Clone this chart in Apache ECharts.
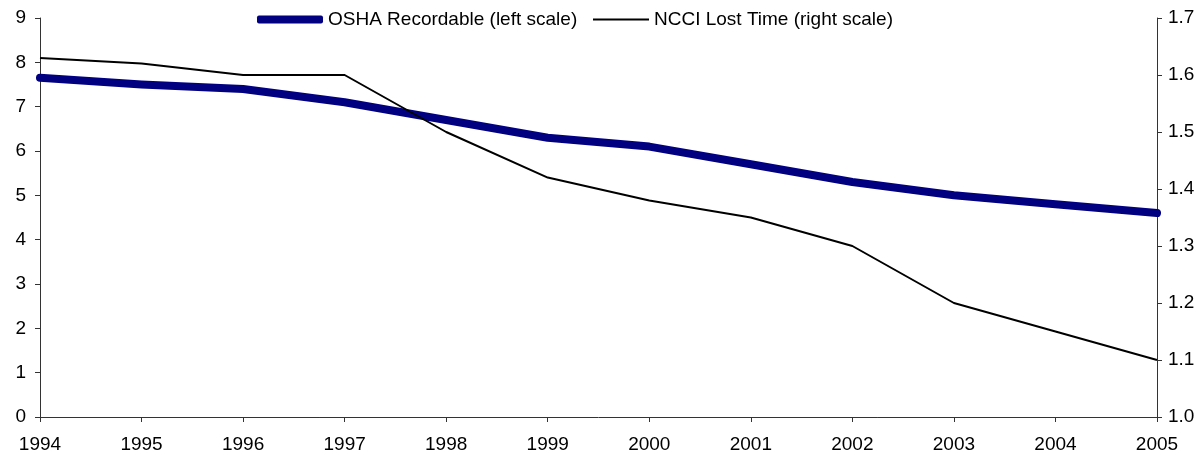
<!DOCTYPE html>
<html>
<head>
<meta charset="utf-8">
<script src="https://cdn.jsdelivr.net/npm/echarts@6/dist/echarts.min.js"></script>
<style>
  html, body { margin: 0; padding: 0; background: #fff; }
  #chart { width: 1196px; height: 455px; }
</style>
</head>
<body>
<div id="chart"></div>
<script>
// Injury rates by year
const years = ['1994', '1995', '1996', '1997', '1998', '1999', '2000', '2001', '2002', '2003', '2004', '2005'];
const oshaRecordable = [7.65, 7.5, 7.4, 7.1, 6.7, 6.3, 6.1, 5.7, 5.3, 5.0, 4.8, 4.6];
const ncciLostTime = [1.63, 1.62, 1.60, 1.60, 1.50, 1.42, 1.38, 1.35, 1.30, 1.20, 1.15, 1.10];
const leftTicks = { min: 0, max: 9, interval: 1 };
const rightTicks = { min: 1.0, max: 1.7, interval: 0.1 };

const FONT = 'Liberation Sans, Arial, sans-serif';
const axisColor = '#333';
const navy = '#000080';

const chart = echarts.init(document.getElementById('chart'), null, { renderer: 'canvas' });
chart.setOption({
  animation: false,
  backgroundColor: '#fff',
  textStyle: { fontFamily: FONT },
  grid: { left: 40, right: 39, top: 18, bottom: 38, containLabel: false, outerBoundsMode: 'none' },
  legend: [
    {
      data: [{ name: 'OSHA Recordable (left scale)', icon: 'roundRect' }],
      left: 252, top: 5,
      itemWidth: 66, itemHeight: 8,
      itemStyle: { color: navy, borderWidth: 0 },
      textStyle: { fontFamily: FONT, fontSize: 19, color: '#000' }
    },
    {
      data: [{ name: 'NCCI Lost Time (right scale)', icon: 'rect' }],
      left: 588, top: 5,
      itemWidth: 56, itemHeight: 2,
      itemStyle: { color: '#000', borderWidth: 0 },
      textStyle: { fontFamily: FONT, fontSize: 19, color: '#000' }
    }
  ],
  xAxis: {
    type: 'category',
    data: years,
    boundaryGap: false,
    axisLine: { lineStyle: { color: axisColor, width: 1 } },
    axisTick: { show: true, length: 5, inside: false, lineStyle: { color: axisColor } },
    axisLabel: { fontFamily: FONT, fontSize: 19, color: '#000', margin: 18, interval: 0 },
    splitLine: { show: false }
  },
  yAxis: [
    {
      type: 'value',
      position: 'left',
      min: leftTicks.min, max: leftTicks.max, interval: leftTicks.interval,
      axisLine: { show: true, lineStyle: { color: axisColor, width: 1 } },
      axisTick: { show: true, length: 5, lineStyle: { color: axisColor } },
      axisLabel: { fontFamily: FONT, fontSize: 19, color: '#000', margin: 14 },
      splitLine: { show: false }
    },
    {
      type: 'value',
      position: 'right',
      min: rightTicks.min, max: rightTicks.max, interval: rightTicks.interval,
      axisLine: { show: true, lineStyle: { color: axisColor, width: 1 } },
      axisTick: { show: true, length: 5, lineStyle: { color: axisColor } },
      axisLabel: { fontFamily: FONT, fontSize: 19, color: '#000', margin: 11,
        formatter: v => v.toFixed(1) },
      splitLine: { show: false }
    }
  ],
  series: [
    {
      name: 'OSHA Recordable (left scale)',
      type: 'line',
      yAxisIndex: 0,
      data: oshaRecordable,
      symbol: 'none',
      lineStyle: { color: navy, width: 8, cap: 'round', join: 'round' },
      itemStyle: { color: navy },
      z: 3
    },
    {
      name: 'NCCI Lost Time (right scale)',
      type: 'line',
      yAxisIndex: 1,
      data: ncciLostTime,
      symbol: 'none',
      lineStyle: { color: '#000', width: 2 },
      itemStyle: { color: '#000' },
      z: 4
    }
  ]
});
</script>
</body>
</html>
